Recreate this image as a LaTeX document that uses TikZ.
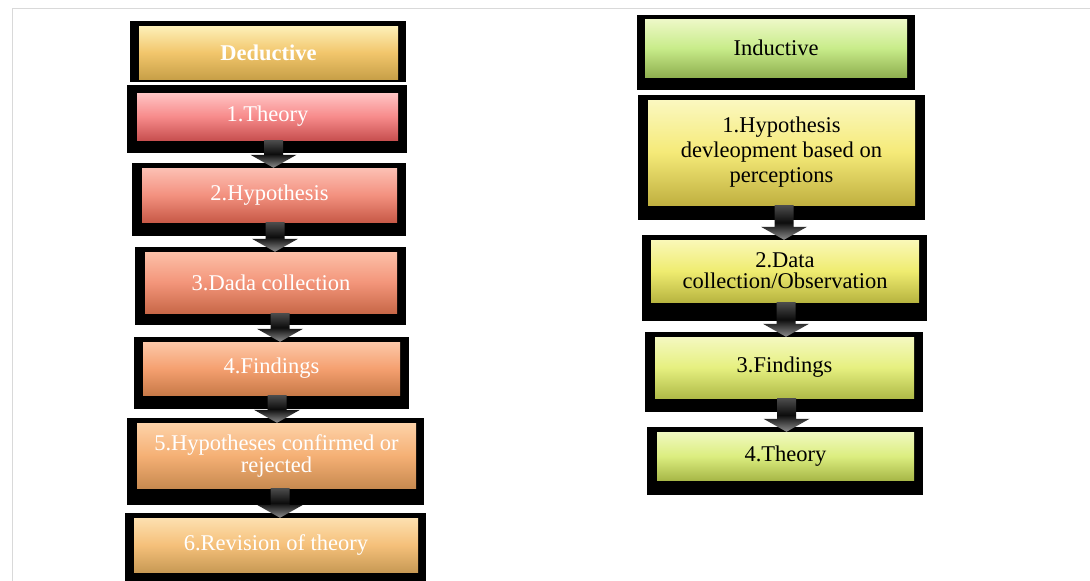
\documentclass[tikz,border=0pt]{standalone}
\usepackage{fontspec}
\setmainfont{Liberation Serif}
\usetikzlibrary{calc,fit}

% gradient colours of each step (top / middle / bottom)
\definecolor{dHt}{HTML}{FDF0B8}\definecolor{dHm}{HTML}{F2C66C}\definecolor{dHb}{HTML}{C8A048}
\definecolor{dAt}{HTML}{FFC4C4}\definecolor{dAm}{HTML}{F78B8B}\definecolor{dAb}{HTML}{C85050}
\definecolor{dBt}{HTML}{FCC0B4}\definecolor{dBm}{HTML}{F3917F}\definecolor{dBb}{HTML}{C85A48}
\definecolor{dCt}{HTML}{FCC0A8}\definecolor{dCm}{HTML}{F3957A}\definecolor{dCb}{HTML}{C86848}
\definecolor{dDt}{HTML}{FCC8A8}\definecolor{dDm}{HTML}{F5A070}\definecolor{dDb}{HTML}{C87A48}
\definecolor{dEt}{HTML}{FDD2A8}\definecolor{dEm}{HTML}{F5B075}\definecolor{dEb}{HTML}{C88A50}
\definecolor{dFt}{HTML}{FDE0B0}\definecolor{dFm}{HTML}{F5C07A}\definecolor{dFb}{HTML}{C89A55}
\definecolor{iHt}{HTML}{EEF8C8}\definecolor{iHm}{HTML}{C8EC8A}\definecolor{iHb}{HTML}{90B050}
\definecolor{iAt}{HTML}{FBF8C0}\definecolor{iAm}{HTML}{F5EA78}\definecolor{iAb}{HTML}{C0B040}
\definecolor{iBt}{HTML}{FAF8B8}\definecolor{iBm}{HTML}{EFEC70}\definecolor{iBb}{HTML}{B8B540}
\definecolor{iCt}{HTML}{F4F8C0}\definecolor{iCm}{HTML}{E6F080}\definecolor{iCb}{HTML}{B0BB48}
\definecolor{iDt}{HTML}{F0F8C0}\definecolor{iDm}{HTML}{DCEE80}\definecolor{iDb}{HTML}{A8B848}

\tikzset{
  backplate/.style={fill=black, inner sep=0pt},
  bevel/.style={inner sep=0pt,
    top color=#1t, bottom color=#1b, middle color=#1m},
  lighttext/.style={text=white},
  darktext/.style={text=black},
  arrowfill/.style={top color=black!70, bottom color=black!45, middle color=black!95}
}

% step box: name, outer corners, inner corners, colour key, text style, text
\newcommand\stepbox[6]{%
  \node[backplate, fit={#2}] (#1-bg) {};
  \node[bevel=#4, fit={#3}] (#1) {};
  \node[#5, align=center, font=\fontsize{22.5}{25}\selectfont] (#1-txt) at (#1.center) {#6};
}

% block arrow from one step to the next
\newcommand\flowarrow[3]{%
  \path[arrowfill] let \p1=([xshift=#3pt]#1.south), \p2=(#2.north) in
    (\x1-9.5pt,\y1) -- (\x1+9.5pt,\y1) -- (\x1+9.5pt,\y2+13pt) -- (\x1+23pt,\y2+13pt)
    -- (\x1,\y2) -- (\x1-23pt,\y2+13pt) -- (\x1-9.5pt,\y2+13pt) -- cycle;
}

\begin{document}
\begin{tikzpicture}[x=1pt,y=-1pt]
\useasboundingbox (0,0) rectangle (1090,581);
\fill[white] (0,0) rectangle (1090,581);
% page frame
\draw[black!15, line width=1.5pt] (12.5,581) -- (12.5,8.5) -- (1090,8.5);

% deductive column
\stepbox{dH}{(130,21)(406,82)}{(139,26)(398,79)}{dH}{lighttext}{\textbf{Deductive}}
\stepbox{d1}{(127,85)(407,153)}{(137,93)(398,140)}{dA}{lighttext}{1.Theory}
\stepbox{d2}{(132,163)(406,236)}{(142,168)(397,222)}{dB}{lighttext}{2.Hypothesis}
\stepbox{d3}{(135,247)(406,325)}{(145,252)(397,313)}{dC}{lighttext}{3.Dada collection}
\stepbox{d4}{(134,337)(409,409)}{(143,342)(400,395)}{dD}{lighttext}{4.Findings}
\stepbox{d5}{(127,418)(424,505)}{(137,423)(416,488)}{dE}{lighttext}{5.Hypotheses confirmed or\\[-3pt]rejected}
\stepbox{d6}{(125,513)(426,581)}{(134,518)(418,572)}{dF}{lighttext}{6.Revision of theory}

% inductive column
\stepbox{iH}{(637,15)(915,90)}{(645,19)(907,77)}{iH}{darktext}{Inductive}
\stepbox{i1}{(638,95)(925,220)}{(648,100)(915,205)}{iA}{darktext}{1.Hypothesis\\devleopment based on\\perceptions}
\stepbox{i2}{(642,235)(927,321)}{(651,240)(919,302)}{iB}{darktext}{2.Data\\[-4pt]collection/Observation}
\stepbox{i3}{(645,332)(923,412)}{(655,337)(914,398)}{iC}{darktext}{3.Findings}
\stepbox{i4}{(647,427)(923,495)}{(657,432)(914,480)}{iD}{darktext}{4.Theory}

% connectors
\flowarrow{d1}{d2}{6}
\flowarrow{d2}{d3}{5.5}
\flowarrow{d3}{d4}{9}
\flowarrow{d4}{d5}{5.5}
\flowarrow{d5}{d6}{3.5}
\flowarrow{i1}{i2}{2.5}
\flowarrow{i2}{i3}{1}
\flowarrow{i3}{i4}{2}
\end{tikzpicture}
\end{document}
